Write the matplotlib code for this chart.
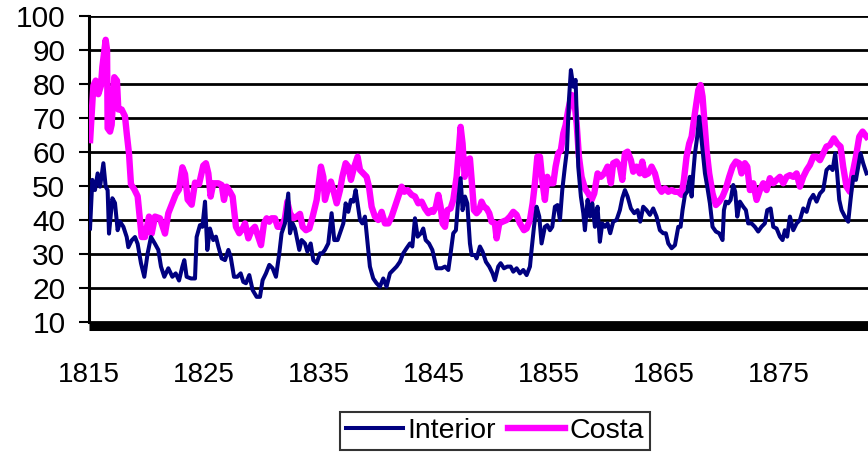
import matplotlib
matplotlib.use("Agg")
import matplotlib.pyplot as plt

plt.rcParams["font.family"] = ["Liberation Sans", "DejaVu Sans"]

# ── data (year, index value) ────────────────────────────────────────────
interior_years = [
    1815.09, 1815.29, 1815.52, 1815.75, 1815.96, 1816.25, 1816.45, 1816.62, 1816.74, 1817.03,
    1817.26, 1817.49, 1817.7, 1817.99, 1818.28, 1818.42, 1818.71, 1819.0, 1819.23, 1819.52,
    1819.81, 1820.1, 1820.39, 1820.74, 1821.03, 1821.26, 1821.55, 1821.9, 1822.25, 1822.54,
    1822.83, 1823.12, 1823.29, 1823.49, 1823.87, 1824.22, 1824.36, 1824.65, 1824.86,
    1825.09, 1825.29, 1825.52, 1825.81, 1826.04, 1826.25, 1826.54, 1826.83, 1827.12, 1827.32,
    1827.61, 1827.9, 1828.19, 1828.42, 1828.65, 1828.94, 1829.23, 1829.58, 1829.87, 1830.1,
    1830.39, 1830.68, 1830.97, 1831.26, 1831.55, 1831.75, 1832.04, 1832.33, 1832.48, 1832.71,
    1832.91, 1833.12, 1833.29, 1833.49, 1833.78, 1833.99, 1834.28, 1834.51, 1834.8, 1835.09,
    1835.29, 1835.52, 1835.81, 1836.1, 1836.33, 1836.62, 1836.91, 1837.12, 1837.32, 1837.55,
    1837.78, 1837.99, 1838.19, 1838.36, 1838.57, 1838.77, 1839.0, 1839.23, 1839.43, 1839.72,
    1840.01, 1840.3, 1840.59, 1840.88, 1841.17, 1841.46, 1841.75, 1842.04, 1842.33, 1842.62,
    1842.91, 1843.12, 1843.35, 1843.58, 1843.87, 1844.07, 1844.28, 1844.57, 1844.86,
    1845.23, 1845.67, 1845.96, 1846.25, 1846.45, 1846.68, 1846.91, 1847.09, 1847.32, 1847.49,
    1847.7, 1847.9, 1848.13, 1848.28, 1848.57, 1848.71, 1849.0, 1849.23, 1849.52, 1849.81,
    1850.1, 1850.3, 1850.59, 1850.8, 1851.09, 1851.38, 1851.67, 1851.9, 1852.19, 1852.48,
    1852.77, 1853.06, 1853.35, 1853.49, 1853.7, 1853.93, 1854.16, 1854.36, 1854.65, 1854.86,
    1855.09, 1855.29, 1855.52, 1855.75, 1855.96, 1856.16, 1856.39, 1856.57, 1856.74, 1856.91,
    1857.12, 1857.32, 1857.43, 1857.55, 1857.78, 1857.99, 1858.13, 1858.36, 1858.57, 1858.77,
    1859.0, 1859.23, 1859.43, 1859.64, 1859.87, 1860.1, 1860.33, 1860.59, 1860.88, 1861.17,
    1861.38, 1861.61, 1861.84, 1862.13, 1862.42, 1862.71, 1862.94, 1863.2, 1863.49, 1863.78,
    1864.07, 1864.36, 1864.65, 1864.94,
    1865.17, 1865.38, 1865.67, 1865.96, 1866.25, 1866.45, 1866.62, 1866.83, 1867.03, 1867.26,
    1867.41, 1867.55, 1867.7, 1867.9, 1868.07, 1868.19, 1868.36, 1868.57, 1868.77, 1869.0,
    1869.23, 1869.52, 1869.81, 1870.1, 1870.22, 1870.39, 1870.59, 1870.8, 1871.03, 1871.2,
    1871.38, 1871.61, 1871.9, 1872.13, 1872.33, 1872.62, 1872.91, 1873.2, 1873.49, 1873.78,
    1873.99, 1874.28, 1874.51, 1874.8, 1875.09,
    1875.32, 1875.52, 1875.72, 1875.96, 1876.25, 1876.54, 1876.83, 1877.12, 1877.41, 1877.7,
    1877.99, 1878.28, 1878.57, 1878.85, 1879.14, 1879.43, 1879.67, 1879.9, 1880.07, 1880.25,
    1880.45, 1880.74, 1881.03, 1881.23, 1881.46, 1881.7, 1881.9, 1882.1, 1882.33, 1882.62,
]
interior_vals = [
    37.5, 51.8, 48.8, 53.7, 49.8, 56.7, 49.8, 48.8, 36.0, 46.4,
    45.0, 37.0, 39.5, 38.0, 35.0, 32.0, 34.0, 35.0, 33.0, 27.3,
    23.3, 30.2, 35.0, 33.0, 31.2, 26.3, 23.3, 25.8, 23.3, 24.3,
    22.2, 26.3, 28.2, 23.3, 22.8, 22.8, 35.0, 38.5, 38.0,
    45.4, 31.2, 37.5, 34.1, 35.1, 32.2, 28.7, 28.2, 31.2, 29.2,
    23.3, 23.3, 24.3, 21.8, 21.4, 23.8, 19.4, 17.4, 17.4, 22.3,
    24.3, 26.8, 25.8, 23.3, 30.2, 36.1, 39.0, 47.8, 36.1, 39.0,
    37.5, 34.1, 31.2, 34.1, 33.1, 30.7, 33.1, 28.2, 27.3, 30.2,
    30.2, 31.2, 33.1, 42.0, 34.1, 34.1, 37.0, 39.0, 44.9, 42.4,
    45.9, 45.4, 48.8, 44.9, 40.0, 39.0, 41.0, 33.1, 26.3, 22.8,
    21.4, 20.4, 22.8, 20.4, 24.3, 25.3, 26.3, 27.7, 30.2, 31.7,
    33.1, 32.2, 40.5, 35.1, 36.1, 37.5, 34.1, 33.1, 31.2,
    25.8, 25.8, 26.3, 25.3, 30.2, 36.1, 37.0, 44.9, 52.3, 42.9,
    46.9, 44.9, 33.1, 29.7, 29.7, 28.7, 32.2, 30.7, 27.7, 26.3,
    24.3, 22.3, 26.3, 27.3, 25.8, 26.3, 26.3, 24.8, 25.8, 24.3,
    25.3, 23.8, 26.3, 31.2, 38.0, 43.9, 41.0, 33.1, 38.0, 38.5,
    37.0, 38.0, 43.9, 44.4, 40.0, 48.8, 55.7, 60.6, 75.3, 84.1,
    79.2, 81.2, 69.4, 55.7, 46.9, 42.0, 37.0, 45.9, 41.0, 44.9,
    38.0, 43.9, 33.6, 39.0, 38.0, 39.0, 36.1, 39.5, 40.0, 42.9,
    46.4, 48.8, 46.9, 43.4, 42.0, 42.9, 39.5, 43.9, 42.9, 41.5,
    43.4, 41.0, 37.0, 36.1,
    36.1, 33.1, 31.7, 32.6, 38.0, 38.0, 42.9, 47.4, 48.3, 52.7,
    46.9, 53.7, 59.6, 64.5, 70.4, 66.5, 60.6, 53.7, 49.8, 44.9,
    38.0, 36.6, 36.1, 34.1, 42.9, 45.4, 44.9, 45.9, 50.3, 48.3,
    41.0, 45.4, 43.9, 42.9, 39.0, 39.0, 38.0, 36.6, 38.0, 39.0,
    42.9, 43.4, 38.0, 37.5, 35.1,
    34.1, 37.0, 35.1, 41.0, 37.0, 39.0, 40.0, 43.4, 42.4, 45.9,
    47.4, 45.4, 47.8, 48.8, 54.7, 55.7, 54.7, 59.6, 53.7, 45.9,
    42.9, 41.0, 39.5, 45.9, 52.7, 51.8, 55.7, 59.6, 56.7, 53.7,
]

costa_years = [
    1815.1, 1815.38, 1815.58, 1815.81, 1816.04, 1816.16, 1816.45, 1816.57, 1816.62, 1816.83,
    1816.97, 1817.2, 1817.43, 1817.55, 1817.84, 1818.13, 1818.28, 1818.48, 1818.65, 1818.94,
    1819.23, 1819.58, 1819.87, 1820.22, 1820.45, 1820.74, 1821.17, 1821.61, 1821.9, 1822.25,
    1822.54, 1822.83, 1823.12, 1823.35, 1823.58, 1823.93, 1824.22, 1824.57, 1824.94,
    1825.17, 1825.38, 1825.58, 1825.81, 1826.25, 1826.54, 1826.74, 1826.97, 1827.26, 1827.49,
    1827.78, 1828.07, 1828.36, 1828.57, 1828.86, 1829.14, 1829.43, 1829.72, 1829.96, 1830.22,
    1830.45, 1830.68, 1830.88, 1831.17, 1831.41, 1831.75, 1832.04, 1832.25, 1832.48, 1832.77,
    1833.06, 1833.35, 1833.58, 1833.87, 1834.16, 1834.45, 1834.8,
    1835.17, 1835.38, 1835.52, 1835.75, 1836.04, 1836.25, 1836.54, 1836.83, 1837.03, 1837.32,
    1837.55, 1837.78, 1838.07, 1838.36, 1838.57, 1838.86, 1839.14, 1839.35, 1839.58, 1839.87,
    1840.16, 1840.45, 1840.74, 1841.03, 1841.32, 1841.61, 1841.9, 1842.19, 1842.42, 1842.71,
    1843.06, 1843.35, 1843.64, 1843.93, 1844.22, 1844.51, 1844.8,
    1844.94, 1845.17, 1845.38, 1845.58, 1845.75, 1845.96, 1846.16, 1846.45, 1846.68, 1846.97,
    1847.14, 1847.32, 1847.49, 1847.67, 1847.9, 1848.13, 1848.28, 1848.48, 1848.71, 1848.94,
    1849.14, 1849.35, 1849.58, 1849.81, 1850.01, 1850.3, 1850.45, 1850.68, 1850.97, 1851.32,
    1851.61, 1851.9, 1852.19, 1852.48, 1852.83, 1853.06, 1853.35, 1853.58, 1853.78, 1853.99,
    1854.22, 1854.45, 1854.65, 1854.86,
    1855.09, 1855.38, 1855.58, 1855.81, 1856.04, 1856.25, 1856.45, 1856.68, 1856.97, 1857.2,
    1857.41, 1857.61, 1857.84, 1858.13, 1858.42, 1858.71, 1858.94, 1859.23, 1859.52, 1859.81,
    1860.1, 1860.39, 1860.59, 1860.88, 1861.17, 1861.38, 1861.61, 1861.84, 1862.13, 1862.33,
    1862.62, 1862.91, 1863.12, 1863.35, 1863.64, 1863.93, 1864.22, 1864.51, 1864.8,
    1865.09, 1865.38, 1865.67, 1865.96, 1866.25, 1866.54, 1866.74, 1866.97, 1867.2, 1867.41,
    1867.61, 1867.78, 1867.99, 1868.19, 1868.36, 1868.51, 1868.71, 1868.94, 1869.23, 1869.52,
    1869.81, 1870.1, 1870.39, 1870.68, 1870.97, 1871.26, 1871.55, 1871.75, 1872.04, 1872.25,
    1872.48, 1872.77, 1873.06, 1873.35, 1873.64, 1873.93, 1874.22, 1874.51, 1874.8, 1875.09,
    1875.38, 1875.67, 1875.96, 1876.25, 1876.54, 1876.83, 1877.12, 1877.41, 1877.7, 1877.99,
    1878.28, 1878.57, 1878.85, 1879.14, 1879.43, 1879.78, 1880.07, 1880.36, 1880.59, 1880.88,
    1881.17, 1881.41, 1881.7, 1881.99, 1882.28, 1882.62,
]
costa_vals = [
    63.5, 79.5, 81.0, 77.0, 79.5, 85.0, 93.0, 90.0, 67.0, 66.0,
    68.0, 82.0, 81.0, 72.5, 72.5, 70.5, 65.5, 59.5, 50.5, 49.0,
    47.0, 35.0, 35.0, 41.0, 36.0, 41.0, 40.5, 36.0, 42.0, 45.0,
    47.5, 49.0, 55.5, 53.5, 46.0, 44.5, 51.0, 50.5, 56.0,
    56.7, 53.7, 46.9, 50.8, 50.8, 50.3, 45.9, 49.8, 48.3, 46.9,
    38.0, 36.1, 37.5, 39.0, 34.6, 37.0, 38.0, 35.1, 32.6, 39.0,
    40.5, 39.5, 40.5, 40.5, 38.0, 38.0, 40.5, 45.4, 42.0, 40.5,
    41.0, 41.8, 38.0, 37.0, 37.5, 41.0, 45.9,
    55.7, 52.7, 45.9, 48.8, 51.3, 48.8, 44.9, 48.8, 52.7, 56.7,
    55.7, 51.8, 55.7, 58.6, 54.7, 53.7, 52.7, 49.8, 43.9, 41.0,
    40.0, 42.4, 39.0, 39.0, 41.0, 43.9, 46.9, 49.8, 48.3, 48.8,
    47.4, 46.9, 44.9, 45.4, 43.4, 42.0, 42.9,
    42.4, 43.9, 47.4, 43.9, 39.0, 38.0, 42.9, 43.4, 45.9, 52.7,
    59.6, 67.4, 62.5, 52.7, 57.6, 58.1, 51.8, 42.9, 42.0, 42.9,
    45.4, 43.9, 43.4, 42.0, 39.5, 39.0, 34.6, 39.0, 39.5, 40.0,
    41.0, 42.4, 41.5, 39.0, 37.0, 37.5, 40.0, 44.9, 50.8, 58.6,
    58.6, 50.8, 45.9, 52.7,
    50.8, 50.8, 55.7, 59.6, 60.6, 65.5, 67.9, 72.4, 76.8, 75.3,
    68.4, 58.6, 52.7, 49.3, 47.8, 45.9, 47.8, 53.7, 52.7, 53.7,
    55.7, 50.8, 56.7, 57.2, 55.7, 51.8, 59.6, 60.1, 57.6, 54.2,
    55.7, 53.7, 57.2, 53.2, 53.7, 55.7, 53.7, 49.8, 48.3,
    49.3, 48.3, 48.8, 48.3, 48.3, 47.4, 51.8, 58.6, 62.5, 64.5,
    69.4, 73.3, 78.2, 79.7, 76.3, 69.4, 60.6, 53.7, 47.8, 44.4,
    45.4, 46.9, 49.3, 52.7, 55.7, 57.2, 56.7, 53.7, 56.7, 55.7,
    48.8, 50.8, 45.9, 48.8, 50.8, 48.8, 52.3, 50.8, 51.8, 52.7,
    50.8, 52.7, 53.2, 52.7, 53.7, 49.8, 52.7, 54.7, 56.2, 58.6,
    58.6, 57.6, 59.6, 61.6, 62.0, 64.0, 62.5, 61.6, 55.7, 49.8,
    48.3, 53.7, 58.6, 64.5, 66.0, 64.5,
]

year_ticks = [1815, 1825, 1835, 1845, 1855, 1865, 1875]
value_ticks = [10, 20, 30, 40, 50, 60, 70, 80, 90, 100]

# ── figure ───────────────────────────────────────────────────────────────
W, H = 868, 453
fig = plt.figure(figsize=(W / 100, H / 100), dpi=100)
ax = fig.add_axes([89 / W, 1 - 322 / H, (W - 89) / W, 306 / H])

ax.plot(costa_years, costa_vals, color="#FF00FF", linewidth=4.6,
        solid_joinstyle="round", label="Costa", zorder=3)
ax.plot(interior_years, interior_vals, color="#000080", linewidth=2.9,
        solid_joinstyle="round", label="Interior", zorder=4)

ax.set_xlim(1815, 1882.75)
ax.set_ylim(10, 100)
ax.set_xticks(year_ticks)
ax.set_yticks(value_ticks)
ax.tick_params(axis="x", length=0, pad=26, labelsize=20)
ax.tick_params(axis="y", length=7, width=1.5, pad=10, labelsize=21.5, direction="out")

ax.yaxis.grid(True, color="black", linewidth=2.0)
ax.set_axisbelow(True)

for side in ("top", "right"):
    ax.spines[side].set_visible(False)
ax.spines["left"].set_linewidth(2.2)
ax.spines["bottom"].set_linewidth(6.5)
ax.spines["bottom"].set_position(("outward", 3))
ax.spines["bottom"].set_capstyle("butt")

handles, labels = ax.get_legend_handles_labels()
leg = fig.legend(handles[::-1], labels[::-1], loc="center",
                 bbox_to_anchor=(495 / W, 1 - 431 / H), ncol=2, fontsize=20.5,
                 frameon=True, fancybox=False, handlelength=2.0,
                 handletextpad=0.15, columnspacing=0.45, borderpad=0.2,
                 borderaxespad=0)
leg.get_frame().set_edgecolor("black")
leg.get_frame().set_linewidth(1.5)

fig.savefig("out.png", dpi=100)
